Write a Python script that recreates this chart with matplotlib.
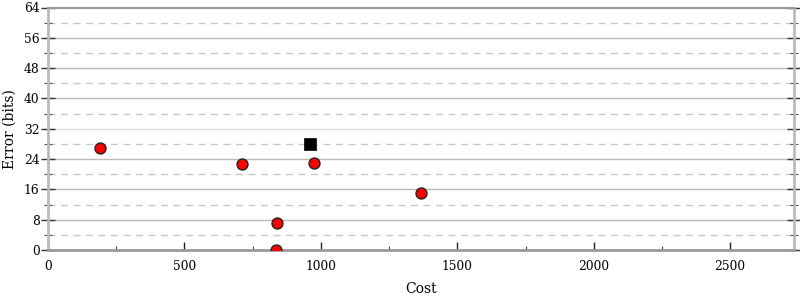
import matplotlib
matplotlib.use("Agg")
import matplotlib.pyplot as plt
from matplotlib.ticker import MultipleLocator

plt.rcParams['font.family'] = ['DejaVu Serif']

# Data
red_cost = [191, 712, 835, 840, 976, 1367]
red_error = [27, 22.7, 0, 7, 23, 15]
black_cost = [959]
black_error = [28.1]

x_max = 2734
y_ticks = [0, 8, 16, 24, 32, 40, 48, 56, 64]
x_ticks = [0, 500, 1000, 1500, 2000, 2500]

fig = plt.figure(figsize=(8, 3), dpi=100)
ax = fig.add_axes([0.06, 0.1667, 0.9325, 0.8083])

ax.set_xlim(0, x_max)
ax.set_ylim(0, 64)

# grid lines
for y in range(8, 64, 8):
    col = '#dddddd' if y == 32 else '#bbbbbb'
    ax.axhline(y, color=col, lw=1.0, zorder=0.5)
for y in range(4, 64, 8):
    ax.axhline(y, color='#c8c8c8', lw=1.0, ls=(0, (5, 4)), zorder=0.5)

ax.scatter(red_cost, red_error, s=62, c='#ff0000', edgecolors='#222222',
           linewidths=1.0, zorder=3)
ax.scatter(black_cost, black_error, s=85, c='black', marker='s',
           edgecolors='black', linewidths=0.5, zorder=3)

ax.set_xticks(x_ticks)
ax.set_yticks(y_ticks)
ax.xaxis.set_minor_locator(MultipleLocator(250))
ax.yaxis.set_minor_locator(MultipleLocator(4))

ax.tick_params(axis='x', which='major', direction='in', length=6, width=1,
               color='#222222', labelsize=8.8, pad=7)
ax.tick_params(axis='x', which='minor', direction='in', length=3, width=0.8,
               color='#444444')
ax.tick_params(axis='y', which='major', direction='inout', length=10, width=1,
               color='#333333', labelsize=8.8, right=True, pad=1)
ax.tick_params(axis='y', which='minor', direction='inout', length=6, width=0.8,
               color='#555555', right=True)

for s in ['left', 'right']:
    ax.spines[s].set_color('#bbbbbb')
    ax.spines[s].set_linewidth(2)
ax.spines['bottom'].set_color('#999999')
ax.spines['bottom'].set_linewidth(2)
ax.spines['top'].set_color('#999999')
ax.spines['top'].set_linewidth(1.5)

ax.set_xlabel('Cost', fontsize=10, labelpad=7)
ax.set_ylabel('Error (bits)', fontsize=10, labelpad=5)

fig.savefig('out.png', dpi=100)
